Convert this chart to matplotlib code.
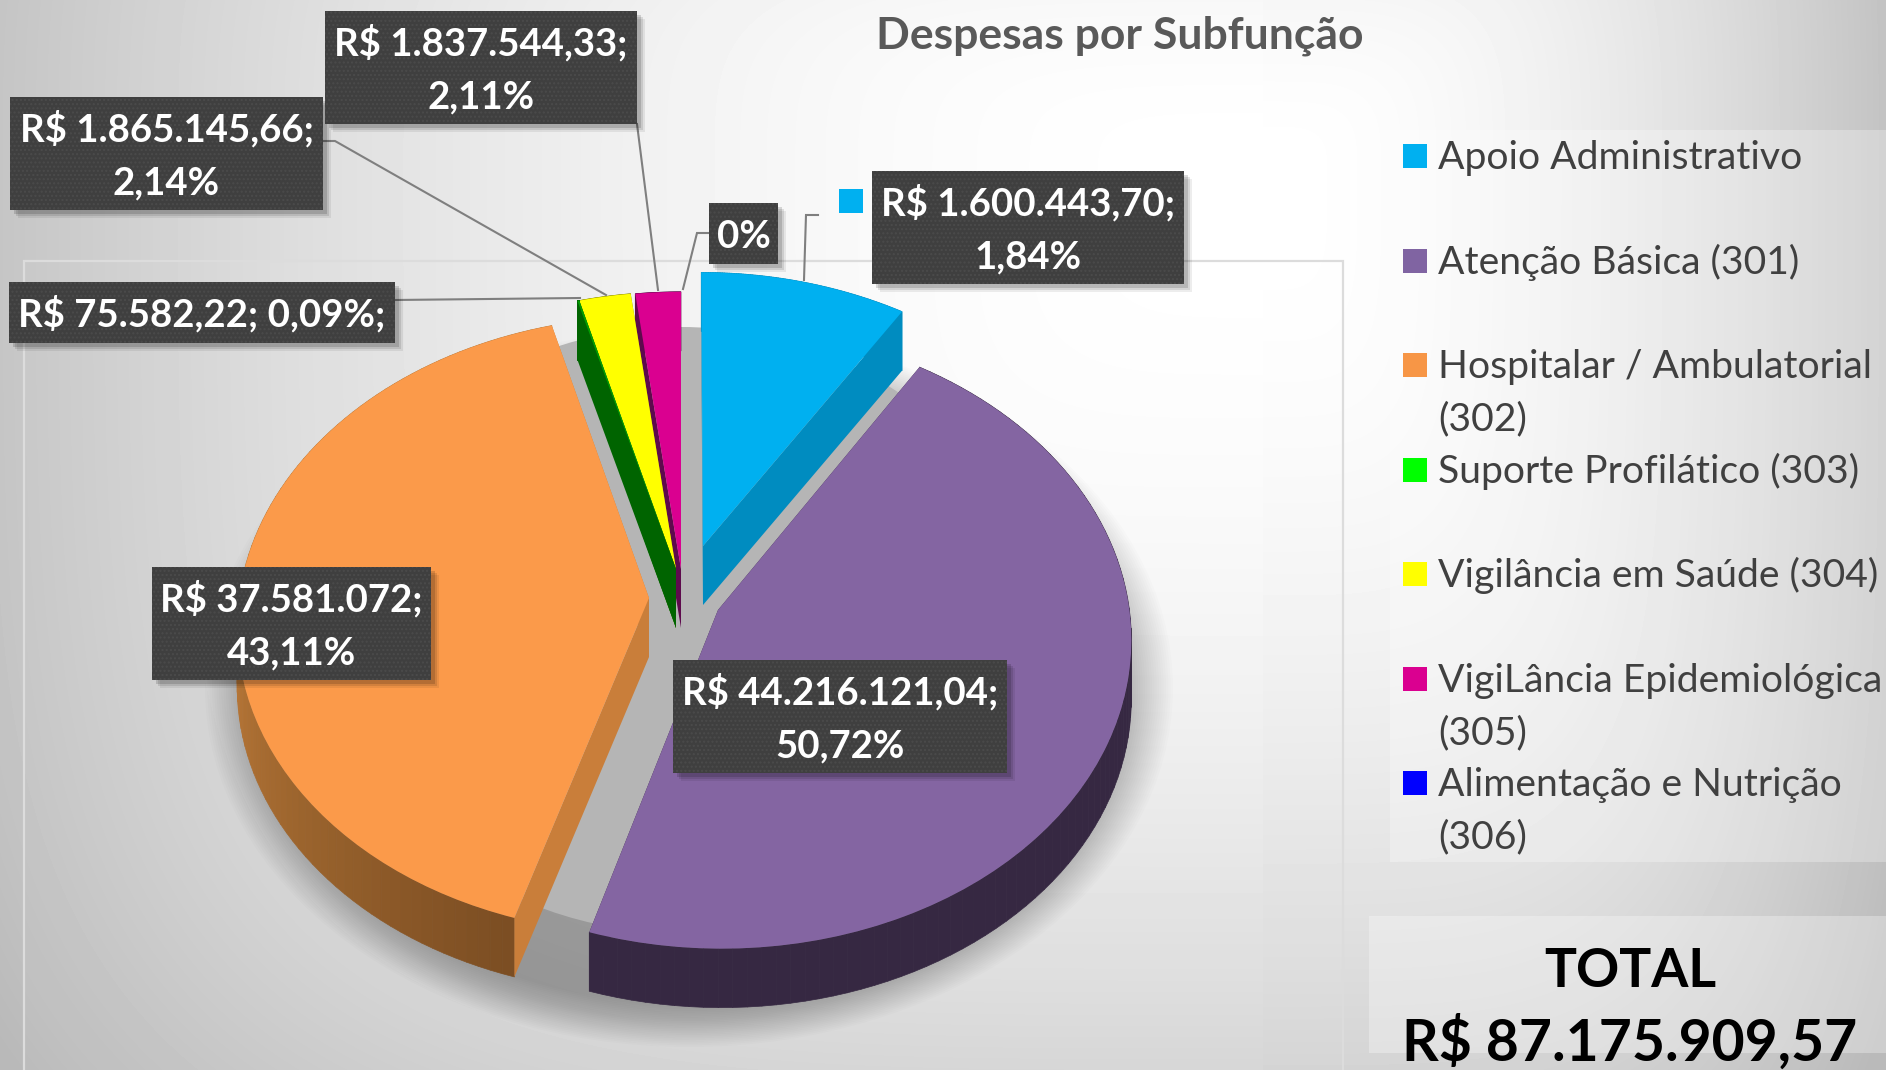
import numpy as np
import matplotlib
matplotlib.use('Agg')
import matplotlib.pyplot as plt
from matplotlib.patches import Rectangle, Ellipse
from matplotlib.transforms import Transform
from matplotlib.collections import PolyCollection
from matplotlib.colors import to_rgb

plt.rcParams['font.family'] = ['Lato', 'DejaVu Sans']

# Data
categories = ['Apoio Administrativo', 'Atenção Básica (301)', 'Hospitalar / Ambulatorial\n(302)',
              'Suporte Profilático (303)', 'Vigilância em Saúde (304)',
              'VigiLância Epidemiológica\n(305)', 'Alimentação e Nutrição\n(306)']
# share of the circle as drawn (the slices do not follow the printed percentages)
drawn_share = [8.95, 45.80, 41.00, 0.08, 2.22, 1.95, 0.0]
label_values = ['R$ 1.600.443,70;', 'R$ 44.216.121,04;', 'R$ 37.581.072;', 'R$ 75.582,22; 0,09%;',
                'R$ 1.865.145,66;', 'R$ 1.837.544,33;', '0%']
label_pcts = ['1,84%', '50,72%', '43,11%', '', '2,14%', '2,11%', '']
title = 'Despesas por Subfunção'
total_lines = ['TOTAL', 'R$ 87.175.909,57']

# Styles
top_colors = ['#00B0F0', '#8465A2', '#FB9A4A', '#00A000', '#FFFF00', '#DA0090', '#0000FF']
key_colors = ['#00B0F0', '#8064A2', '#F79646', '#00FF00', '#FFFF00', '#DA0090', '#0000FF']
rim_dark = ['#008CC0', '#362842', '#7A4D22', '#006400', '#8A8A00', '#5E0A4D', '#000080']
rim_light = ['#008CC0', '#362842', '#BC7A38', '#006400', '#8A8A00', '#5E0A4D', '#000080']
cut_colors = ['#008CC0', '#362842', '#C97E3A', '#006400', '#8A8A00', '#5E0A4D', '#000080']
draw_order = [0, 6, 5, 4, 3, 2, 1]

W, H = 1886, 1070
px_cx, px_cy = 681.0, 589.5
px_a, px_b, persp_k = 409.0, 305.0, 0.088
depth = 59


def disk_to_px(xy):
    xy = np.asarray(xy, dtype=float)
    w = 1 + persp_k * xy[..., 1]
    return np.stack([px_cx + px_a * xy[..., 0] / w, px_cy - px_b * xy[..., 1] / w], axis=-1)


def px_to_disk(px, py):
    sx, sy = px - px_cx, px_cy - py
    v = sy / (px_b - persp_k * sy)
    return sx * (1 + persp_k * v) / px_a, v


class TiltedDisk(Transform):
    input_dims = 2
    output_dims = 2
    is_affine = False
    has_inverse = False

    def transform_non_affine(self, values):
        return disk_to_px(values)


# where the tip of each slice ends up after being pulled out
apex_px = [(703, 546), (718, 610), (649, 598), (676, 569), (676, 569), (681, 569), (681, 569)]

fig = plt.figure(figsize=(W / 100, H / 100), dpi=100)
ax = fig.add_axes([0, 0, 1, 1])

wedges, _ = ax.pie(drawn_share, startangle=90, counterclock=False, radius=1, wedgeprops=dict(linewidth=0))
ax.set_aspect('auto')
ax.set_xlim(0, W)
ax.set_ylim(H, 0)
ax.set_axis_off()

# background gradient
yy, xx = np.mgrid[0:H, 0:W]
gx, gy = 1263.0, 180.0
dx = np.where(xx < gx, (gx - xx) / gx, (xx - gx) / (W - gx) * 1.02)
dy = np.where(yy < gy, (gy - yy) / gy * 0.35, (yy - gy) / (H - gy) * 0.85)
d = (dx ** 4 + dy ** 4) ** 0.25
bg = 255 - 58 * np.minimum(d, 1.1) ** np.where(xx < gx, 2.0, 1.8)
ax.imshow(bg, cmap='gray', vmin=0, vmax=255, extent=(0, W, H, 0), aspect='auto', zorder=0)

ax.add_patch(Rectangle((24, 261), 1319, 900, fc=(1, 1, 1, 0.03), ec='#DCDCDC', lw=1.6, zorder=1))
ax.add_patch(Rectangle((1390, 130), 520, 732, fc=(1, 1, 1, 0.28), ec='none', zorder=1))
ax.add_patch(Rectangle((1369, 916), 540, 137, fc=(1, 1, 1, 0.3), ec='none', zorder=1))

# soft shadow under the pie
for s in np.linspace(1.0, 0.88, 26):
    ax.add_patch(Ellipse((689, 688), 968 * s, 718 * s, fc=(0, 0, 0, 0.012), ec='none', zorder=2))
ax.add_patch(Ellipse((681, 630), 700, 606, fc='#B5B5B5', ec='none', zorder=3))

persp = TiltedDisk()
for n, i in enumerate(draw_order):
    wedge = wedges[i]
    if drawn_share[i] == 0:
        wedge.set_visible(False)
        continue
    zo = 4 + n
    wedge.set_center(px_to_disk(*apex_px[i]))
    wedge.set_facecolor(top_colors[i])
    wedge.set_transform(persp + ax.transData)
    wedge.set_zorder(zo + 0.5)
    wedge.set_clip_on(False)

    # side walls, taken from the slice's own angles
    cen = np.array(wedge.center)
    th = np.radians(np.linspace(wedge.theta1, wedge.theta2, 90))
    rim = disk_to_px(cen + np.stack([np.cos(th), np.sin(th)], axis=1))
    quads = [[rim[j], rim[j + 1], rim[j + 1] + (0, depth), rim[j] + (0, depth)] for j in range(len(rim) - 1)]
    c0, c1 = np.array(to_rgb(rim_dark[i])), np.array(to_rgb(rim_light[i]))
    fr = np.clip((wedge.theta2 - np.degrees(th[:-1])) / 72.0, 0, 1)
    ax.add_collection(PolyCollection(quads, facecolors=[c0 + (c1 - c0) * f for f in fr],
                                     edgecolors='face', linewidths=0.5, zorder=zo), autolim=False)
    apex = disk_to_px(cen)
    for corner in (rim[0], rim[-1]):
        ax.fill([apex[0], corner[0], corner[0], apex[0]],
                [apex[1], corner[1], corner[1] + depth, apex[1] + depth],
                color=cut_colors[i], lw=0, zorder=zo + 0.2)

# leader lines
leaders = [([818, 806, 804], [215, 215, 280]), ([395, 580], [300, 298]), ([323, 335, 606], [141, 141, 295]),
           ([637, 658], [124, 290]), ([709, 697, 683], [233, 233, 289])]
for lx, ly in leaders:
    ax.plot(lx, ly, color='#7F7F7F', lw=1.5, zorder=15, solid_joinstyle='miter')

# data labels
boxes = [(872, 171, 1184, 284), (673, 660, 1007, 773), (152, 567, 431, 680), (9, 282, 395, 343),
         (10, 97, 323, 210), (325, 11, 637, 124), (709, 203, 778, 264)]
label_size = 27.6
for i, (x0, y0, x1, y1) in enumerate(boxes):
    for off, a in ((8, 0.07), (6, 0.1), (4, 0.14)):
        ax.add_patch(Rectangle((x0 + off, y0 + off), x1 - x0, y1 - y0, fc=(0, 0, 0, a), ec='none', zorder=16))
    ax.add_patch(Rectangle((x0, y0), x1 - x0, y1 - y0, fc='#3F3F3F', ec='#4B4B4B', hatch='....', lw=0, zorder=17))
    xc, yc = (x0 + x1) / 2, (y0 + y1) / 2
    if label_pcts[i]:
        ax.text(xc, yc - 12, label_values[i], color='white', fontsize=label_size, fontweight='bold', ha='center', va='baseline', zorder=18)
        ax.text(xc, yc + 41, label_pcts[i], color='white', fontsize=label_size, fontweight='bold', ha='center', va='baseline', zorder=18)
    else:
        ax.text(xc, yc + 14, label_values[i], color='white', fontsize=label_size, fontweight='bold', ha='center', va='baseline', zorder=18)
ax.add_patch(Rectangle((839, 189), 24, 24, fc=key_colors[0], ec='none', zorder=18))

# legend
key_tops = [144, 249, 353, 458, 562, 667, 771]
for i, label in enumerate(categories):
    ax.add_patch(Rectangle((1403, key_tops[i]), 24, 24, fc=key_colors[i], ec='none', zorder=18))
    for j, line in enumerate(label.split('\n')):
        ax.text(1438, key_tops[i] + 25 + j * 52, line, color='#404040', fontsize=28.2, ha='left', va='baseline', zorder=18)

ax.text(1120, 48, title, color='#595959', fontsize=32, fontweight='bold', ha='center', va='baseline', zorder=18)
ax.text(1630, 987, total_lines[0], color='black', fontsize=38.5, fontweight='bold', ha='center', va='baseline', zorder=18)
ax.text(1630, 1061, total_lines[1], color='black', fontsize=41, fontweight='bold', ha='center', va='baseline', zorder=18)

fig.savefig('out.png', dpi=100)
